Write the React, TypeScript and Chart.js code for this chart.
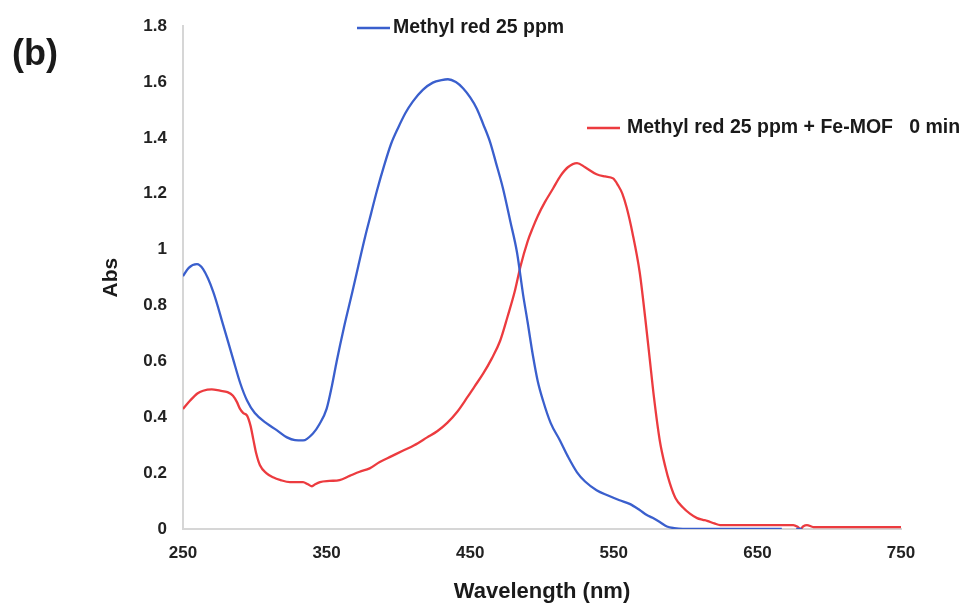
import React, { useEffect, useRef } from "react";
import { Chart, registerables } from "chart.js";

Chart.register(...registerables);

const blueLabel = "Methyl red 25 ppm";
const redLabel = "Methyl red 25 ppm + Fe-MOF   0 min";
const xTitle = "Wavelength (nm)";
const yTitle = "Abs";
const panelLabel = "(b)";

const blueX = [250, 254, 259.7, 264, 271, 278, 284.8, 290, 294.6, 300, 308.5, 315, 322.4, 328, 333.6, 340.5, 345, 350, 354, 357, 362, 368, 372, 377, 381, 385, 390, 395, 399.7, 405, 410, 417, 424, 430, 434.5, 440, 445, 450, 454.7, 459, 463.8, 468, 472.8, 478, 482.6, 486.8, 490, 493.7, 497, 500.7, 506, 512.5, 518, 524.4, 530, 538, 546, 554, 561, 568, 573, 577, 582, 587, 592, 598, 620, 640, 667, 672, 677, 681];
const blueY: (number | null)[] = [0.905, 0.935, 0.948, 0.93, 0.85, 0.73, 0.61, 0.52, 0.46, 0.415, 0.377, 0.355, 0.328, 0.318, 0.317, 0.342, 0.375, 0.43, 0.52, 0.6, 0.72, 0.85, 0.94, 1.05, 1.13, 1.21, 1.3, 1.38, 1.435, 1.49, 1.53, 1.572, 1.598, 1.607, 1.61, 1.6, 1.578, 1.545, 1.504, 1.45, 1.386, 1.31, 1.22, 1.1, 0.99, 0.84, 0.74, 0.62, 0.53, 0.46, 0.38, 0.317, 0.26, 0.203, 0.17, 0.139, 0.12, 0.103, 0.09, 0.068, 0.05, 0.04, 0.025, 0.009, 0.003, 0, 0, 0, 0, null, 0, 0];

const redX = [250, 255, 260, 264, 270, 275.8, 281, 284.8, 287.5, 289.7, 292, 294.6, 297, 299, 301, 303.6, 308, 312.7, 318, 324.5, 333.6, 337, 339.8, 342, 345.4, 352, 359, 366, 373, 380, 387, 395, 403, 411, 420, 427, 434, 441, 447.8, 453, 459, 465, 470.8, 476, 481, 485, 490, 493.7, 497, 502, 507.7, 513, 518, 524.4, 530, 538, 544, 549.5, 553, 556, 559, 563, 568, 572, 575, 578, 582, 586, 589, 593, 598, 603, 608, 612, 615, 620, 624, 650, 675, 678, 680, 682, 684.5, 689, 720, 750];
const redY = [0.43, 0.46, 0.485, 0.495, 0.5, 0.495, 0.49, 0.477, 0.455, 0.43, 0.415, 0.406, 0.37, 0.32, 0.27, 0.228, 0.2, 0.185, 0.175, 0.168, 0.168, 0.16, 0.153, 0.16, 0.168, 0.172, 0.175, 0.19, 0.205, 0.217, 0.24, 0.26, 0.28, 0.3, 0.328, 0.35, 0.38, 0.42, 0.47, 0.51, 0.556, 0.61, 0.673, 0.76, 0.85, 0.94, 1.03, 1.08, 1.12, 1.17, 1.219, 1.265, 1.295, 1.31, 1.295, 1.27, 1.262, 1.255, 1.23, 1.2, 1.15, 1.06, 0.92, 0.75, 0.61, 0.47, 0.317, 0.22, 0.164, 0.11, 0.078, 0.055, 0.039, 0.033, 0.029, 0.02, 0.014, 0.014, 0.014, 0.008, 0.0, 0.01, 0.014, 0.007, 0.007, 0.007];

const BLUE = "#3a5fcd";
const RED = "#ec3b3f";
const FONT = "'Liberation Sans', Arial, sans-serif";

const annotations = {
  id: "annotations",
  afterDraw(chart: any) {
    const ctx = chart.ctx;
    ctx.save();
    ctx.fillStyle = "#1a1a1a";
    ctx.textBaseline = "middle";
    ctx.textAlign = "left";
    ctx.font = `bold 36px ${FONT}`;
    ctx.fillText(panelLabel, 12, 55);
    ctx.font = `bold 19.5px ${FONT}`;
    ctx.lineWidth = 2.5;
    ctx.strokeStyle = BLUE;
    ctx.beginPath();
    ctx.moveTo(357, 28);
    ctx.lineTo(390, 28);
    ctx.stroke();
    ctx.fillText(blueLabel, 393, 28);
    ctx.strokeStyle = RED;
    ctx.beginPath();
    ctx.moveTo(587, 128);
    ctx.lineTo(620, 128);
    ctx.stroke();
    ctx.fillText(redLabel, 627, 128);
    ctx.restore();
  },
};

export default function App() {
  const ref = useRef<HTMLCanvasElement>(null);
  useEffect(() => {
    if (!ref.current) return;
    const chart = new Chart(ref.current, {
      type: "line",
      data: {
        datasets: [
          {
            label: blueLabel,
            data: blueX.map((x, i) => ({ x, y: blueY[i] })) as any,
            borderColor: BLUE,
            borderWidth: 2.3,
            pointRadius: 0,
            cubicInterpolationMode: "monotone",
            spanGaps: false,
          },
          {
            label: redLabel,
            data: redX.map((x, i) => ({ x, y: redY[i] })),
            borderColor: RED,
            borderWidth: 2.3,
            pointRadius: 0,
            cubicInterpolationMode: "monotone",
          },
        ],
      },
      options: {
        animation: false,
        responsive: true,
        maintainAspectRatio: false,
        layout: { padding: { left: 95, right: 63, top: 24, bottom: 0 } },
        plugins: { legend: { display: false }, tooltip: { enabled: false } },
        scales: {
          x: {
            type: "linear",
            min: 250,
            max: 750,
            grid: { display: false, drawTicks: false },
            border: { display: true, color: "#d6d6d6", width: 2 },
            ticks: {
              stepSize: 100,
              padding: 14,
              color: "#222",
              font: { family: FONT, size: 17, weight: "bold" },
            },
            title: {
              display: true,
              text: xTitle,
              color: "#1a1a1a",
              padding: { top: 4, bottom: 2 },
              font: { family: FONT, size: 22, weight: "bold" },
            },
            afterFit(scale: any) {
              scale.height = 78;
            },
          },
          y: {
            type: "linear",
            min: 0,
            max: 1.8,
            grid: { display: false, drawTicks: false },
            border: { display: true, color: "#d6d6d6", width: 2 },
            ticks: {
              stepSize: 0.2,
              padding: 16,
              color: "#222",
              font: { family: FONT, size: 17, weight: "bold" },
              callback: (v: any) => String(Number(Number(v).toFixed(1))),
            },
            title: {
              display: true,
              text: yTitle,
              color: "#1a1a1a",
              padding: { top: 4, bottom: 4 },
              font: { family: FONT, size: 21, weight: "bold" },
            },
            afterFit(scale: any) {
              scale.width = 88;
            },
          },
        },
      },
      plugins: [annotations],
    });
    return () => chart.destroy();
  }, []);
  return (
    <div style={{ position: "absolute", left: 0, top: 0, width: 964, height: 607, background: "#fff" }}>
      <canvas ref={ref} />
    </div>
  );
}
